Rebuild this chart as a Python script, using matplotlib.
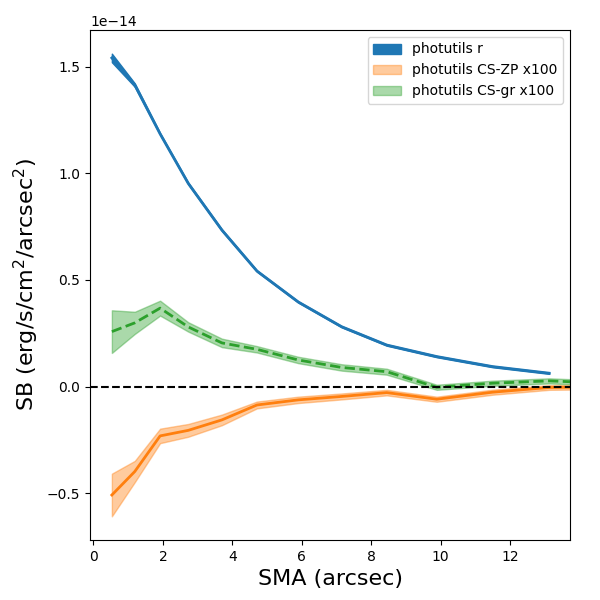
import numpy as np
import matplotlib
matplotlib.use("Agg")
import matplotlib.pyplot as plt

# SMA of each isophote (arcsec)
sma = [0.53, 1.19, 1.92, 2.73, 3.70, 4.71, 5.90, 7.15, 8.45, 9.89, 11.50, 13.13, 13.73]

# surface brightness, in units of 1e-14 erg/s/cm^2/arcsec^2
sb_r = [1.541, 1.414, 1.185, 0.953, 0.734, 0.542, 0.397, 0.281, 0.195, 0.141, 0.094, 0.063]
sb_r_err = [0.020, 0.008, 0.004, 0.004, 0.004, 0.003, 0.003, 0.003, 0.003, 0.003, 0.003, 0.003]

# CS-ZP and CS-gr already scaled x100
sb_zp = [-0.508, -0.398, -0.231, -0.205, -0.156, -0.086, -0.062, -0.046, -0.028, -0.059, -0.026, -0.004, -0.003]
sb_zp_err = [0.100, 0.050, 0.034, 0.030, 0.025, 0.016, 0.015, 0.014, 0.013, 0.012, 0.012, 0.011, 0.011]

sb_gr = [0.258, 0.299, 0.368, 0.280, 0.205, 0.175, 0.125, 0.090, 0.070, -0.003, 0.016, 0.027, 0.023]
sb_gr_err = [0.100, 0.052, 0.035, 0.022, 0.020, 0.015, 0.015, 0.015, 0.014, 0.012, 0.012, 0.012, 0.012]

scale = 1e-14
x = np.array(sma)
r = np.array(sb_r) * scale
re = np.array(sb_r_err) * scale
zp = np.array(sb_zp) * scale
zpe = np.array(sb_zp_err) * scale
gr = np.array(sb_gr) * scale
gre = np.array(sb_gr_err) * scale
xr = x[:len(r)]

fig, ax = plt.subplots(figsize=(6, 6), dpi=100)
fig.subplots_adjust(left=0.15, right=0.95, bottom=0.1, top=0.95)

ax.fill_between(xr, r - re, r + re, color='C0', alpha=1.0, label='photutils r')
ax.plot(xr, r, color='C0', lw=2)

ax.fill_between(x, zp - zpe, zp + zpe, color='C1', alpha=0.4, label='photutils CS-ZP x100')
ax.plot(x, zp, color='C1', lw=2)

ax.fill_between(x, gr - gre, gr + gre, color='C2', alpha=0.4, label='photutils CS-gr x100')
ax.plot(x, gr, color='C2', lw=2, ls='--')

ax.axhline(0, color='k', ls='--', lw=1.5)

ax.set_xlim(-0.1, 13.73)
ax.set_ylim(-0.719 * scale, 1.672 * scale)
ax.set_xlabel("SMA (arcsec)", fontsize=16)
ax.set_ylabel("SB (erg/s/cm$^2$/arcsec$^2$)", fontsize=16)
ax.legend(loc='upper right')

plt.savefig("out.png")
